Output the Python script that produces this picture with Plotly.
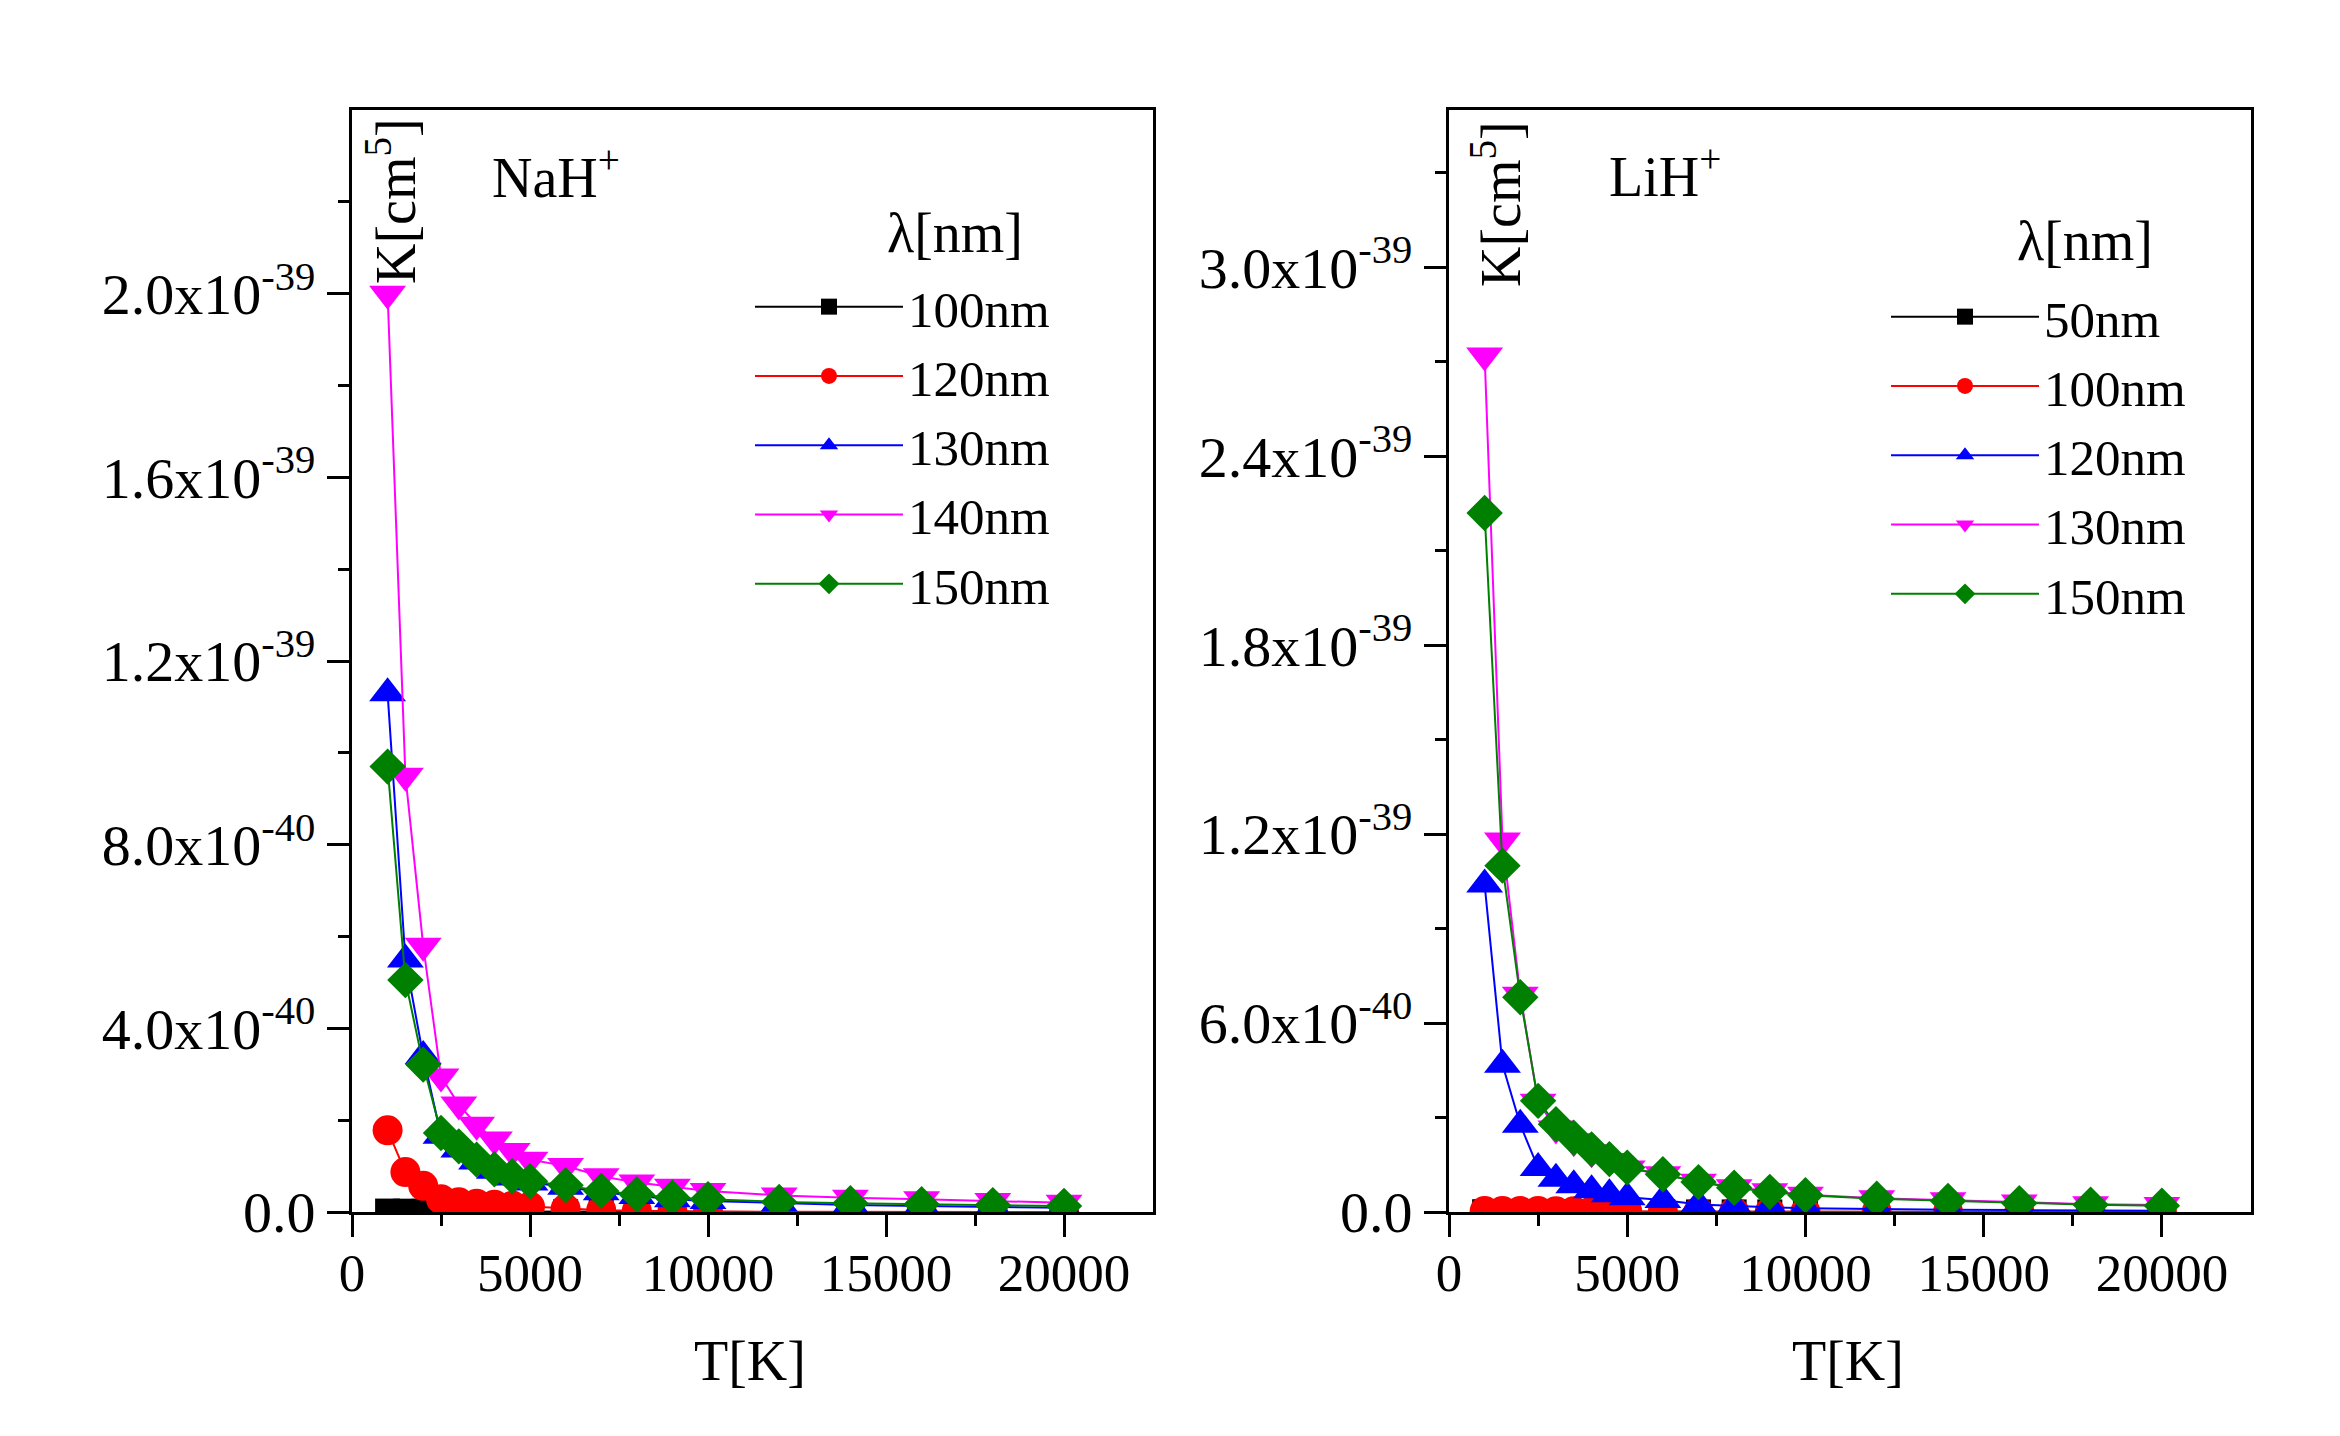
import numpy as np
import plotly.graph_objects as go

# ---------------- data ----------------
T_K = [1000, 1500, 2000, 2500, 3000, 3500, 4000, 4500, 5000, 6000,
       7000, 8000, 9000, 10000, 12000, 14000, 16000, 18000, 20000]

UNIT = 1e-40  # values below are in units of 1e-40 cm^5

# NaH+ panel
nah_names = ["100nm", "120nm", "130nm", "140nm", "150nm"]
nah_100nm = [0.02, 0.018, 0.015, 0.012, 0.01, 0.009, 0.008, 0.007, 0.006, 0.005,
             0.004, 0.003, 0.003, 0.002, 0.002, 0.002, 0.001, 0.001, 0.001]
nah_120nm = [1.78, 0.87, 0.57, 0.28, 0.21, 0.18, 0.16, 0.14, 0.12, 0.07,
             0.04, 0.025, 0.015, 0.01, 0.006, 0.004, 0.003, 0.002, 0.002]
nah_130nm = [11.3, 5.5, 3.4, 1.66, 1.36, 1.1, 0.9, 0.75, 0.64, 0.55,
             0.43, 0.35, 0.28, 0.24, 0.19, 0.15, 0.13, 0.11, 0.09]
nah_140nm = [20.0, 9.5, 5.8, 2.95, 2.34, 1.9, 1.58, 1.33, 1.14, 1.0,
             0.78, 0.64, 0.55, 0.46, 0.36, 0.31, 0.28, 0.24, 0.2]
nah_150nm = [9.7, 5.05, 3.21, 1.72, 1.43, 1.14, 0.93, 0.78, 0.67, 0.58,
             0.46, 0.38, 0.31, 0.28, 0.22, 0.19, 0.17, 0.15, 0.13]

# LiH+ panel
lih_names = ["50nm", "100nm", "120nm", "130nm", "150nm"]
lih_50nm = [0.01, 0.01, 0.01, 0.008, 0.008, 0.007, 0.006, 0.006, 0.005, 0.004,
            0.003, 0.003, 0.002, 0.002, 0.002, 0.001, 0.001, 0.001, 0.001]
lih_100nm = [0.03, 0.03, 0.03, 0.03, 0.025, 0.025, 0.02, 0.02, 0.02, 0.015,
             0.01, 0.008, 0.006, 0.005, 0.004, 0.003, 0.003, 0.002, 0.002]
lih_120nm = [10.4, 4.68, 2.77, 1.4, 1.06, 0.85, 0.69, 0.56, 0.47, 0.38,
             0.24, 0.19, 0.15, 0.12, 0.09, 0.07, 0.06, 0.05, 0.04]
lih_130nm = [27.2, 11.8, 6.9, 3.5, 2.65, 2.25, 1.9, 1.62, 1.38, 1.2,
             0.96, 0.79, 0.66, 0.55, 0.44, 0.37, 0.3, 0.25, 0.22]
lih_150nm = [22.2, 11.0, 6.82, 3.53, 2.79, 2.36, 1.99, 1.68, 1.41, 1.2,
             0.95, 0.77, 0.64, 0.53, 0.42, 0.35, 0.28, 0.23, 0.2]

# ticks
x_tickvals = [0, 5000, 10000, 15000, 20000]
x_ticktext = ["0", "5000", "10000", "15000", "20000"]
x_minorvals = [2500, 7500, 12500, 17500]
nah_yticks = [0, 4e-40, 8e-40, 1.2e-39, 1.6e-39, 2.0e-39]
nah_yticktext = ["0.0", "4.0x10<sup>-40</sup>", "8.0x10<sup>-40</sup>",
                 "1.2x10<sup>-39</sup>", "1.6x10<sup>-39</sup>", "2.0x10<sup>-39</sup>"]
nah_yminor = [2e-40, 6e-40, 1.0e-39, 1.4e-39, 1.8e-39, 2.2e-39]
lih_yticks = [0, 6e-40, 1.2e-39, 1.8e-39, 2.4e-39, 3.0e-39]
lih_yticktext = ["0.0", "6.0x10<sup>-40</sup>", "1.2x10<sup>-39</sup>",
                 "1.8x10<sup>-39</sup>", "2.4x10<sup>-39</sup>", "3.0x10<sup>-39</sup>"]
lih_yminor = [3e-40, 9e-40, 1.5e-39, 2.1e-39, 2.7e-39, 3.3e-39]

# ---------------- style ----------------
FONT = "Liberation Serif"
colors = ["#000000", "#FF0000", "#0000FF", "#FF00FF", "#008000"]
symbols = ["square", "circle", "triangle-up", "triangle-down", "diamond"]
msizes = [25, 30, 32, 32, 28]

W, H = 2340, 1436

fig = go.Figure()

panels = [
    ("x", "y", "legend", nah_names, [nah_100nm, nah_120nm, nah_130nm, nah_140nm, nah_150nm]),
    ("x2", "y2", "legend2", lih_names, [lih_50nm, lih_100nm, lih_120nm, lih_130nm, lih_150nm]),
]
for xa, ya, leg, names, series in panels:
    for name, vals, c, s, ms in zip(names, series, colors, symbols, msizes):
        fig.add_trace(go.Scatter(
            x=T_K, y=np.array(vals) * UNIT, name=name, mode="lines+markers",
            line=dict(color=c, width=2),
            marker=dict(symbol=s, size=ms, color=c, line=dict(width=0)),
            xaxis=xa, yaxis=ya, legend=leg,
        ))

xtickfont = dict(family=FONT, size=53, color="black")
ytickfont = dict(family=FONT, size=58, color="black")

def xaxis_cfg(domain, anchor):
    return dict(domain=domain, anchor=anchor, range=[0, 22500], automargin=False,
                tickmode="array", tickvals=x_tickvals, ticktext=x_ticktext,
                ticks="outside", ticklen=22, tickwidth=3, tickcolor="black",
                ticklabelstandoff=-10,
                minor=dict(tickmode="array", tickvals=x_minorvals, ticks="outside",
                           ticklen=11, tickwidth=3, tickcolor="black", showgrid=False),
                showline=True, linewidth=3, linecolor="black", mirror=True,
                showgrid=False, zeroline=False, tickfont=xtickfont)

def yaxis_cfg(domain, anchor, rng, tv, tt, mv):
    return dict(domain=domain, anchor=anchor, range=rng, automargin=False,
                tickmode="array", tickvals=tv, ticktext=tt,
                ticks="outside", ticklen=22, tickwidth=3, tickcolor="black",
                ticklabelstandoff=0,
                minor=dict(tickmode="array", tickvals=mv, ticks="outside",
                           ticklen=11, tickwidth=3, tickcolor="black", showgrid=False),
                showline=True, linewidth=3, linecolor="black", mirror=True,
                showgrid=False, zeroline=False, tickfont=ytickfont)

ydom = [1 - 1212 / H, 1 - 110 / H]
fig.update_layout(
    width=W, height=H, autosize=False,
    margin=dict(l=0, r=0, t=0, b=0, pad=0, autoexpand=False),
    paper_bgcolor="white", plot_bgcolor="white",
    font=dict(family=FONT, color="black"),
    xaxis=xaxis_cfg([352 / W, 1153 / W], "y"),
    yaxis=yaxis_cfg(ydom, "x", [0, 2.4e-39], nah_yticks, nah_yticktext, nah_yminor),
    xaxis2=xaxis_cfg([1449 / W, 2251 / W], "y2"),
    yaxis2=yaxis_cfg(ydom, "x2", [0, 3.5e-39], lih_yticks, lih_yticktext, lih_yminor),
    legend=dict(x=750 / W, y=1 - 267 / H, xanchor="left", yanchor="top",
                font=dict(family=FONT, size=51, color="black"), itemwidth=148,
                bgcolor="rgba(0,0,0,0)", borderwidth=0, tracegroupgap=0),
    legend2=dict(x=1886 / W, y=1 - 277 / H, xanchor="left", yanchor="top",
                 font=dict(family=FONT, size=51, color="black"), itemwidth=148,
                 bgcolor="rgba(0,0,0,0)", borderwidth=0, tracegroupgap=0),
    showlegend=True,
)

ann_font = dict(family=FONT, size=56, color="black")
annotations = [
    dict(text="NaH<sup>+</sup>", x=490 / W, y=1 - 174 / H, xanchor="left", yanchor="middle"),
    dict(text="LiH<sup>+</sup>", x=1607 / W, y=1 - 173 / H, xanchor="left", yanchor="middle"),
    dict(text="K[cm<sup>5</sup>]", x=391 / W, y=1 - 201 / H, xanchor="center", yanchor="middle",
         textangle=-90),
    dict(text="K[cm<sup>5</sup>]", x=1497 / W, y=1 - 204 / H, xanchor="center", yanchor="middle",
         textangle=-90),
    dict(text="T[K]", x=750 / W, y=1 - 1361 / H, xanchor="center", yanchor="middle"),
    dict(text="T[K]", x=1848 / W, y=1 - 1361 / H, xanchor="center", yanchor="middle"),
    dict(text="λ[nm]", x=955 / W, y=1 - 233 / H, xanchor="center", yanchor="middle"),
    dict(text="λ[nm]", x=2085 / W, y=1 - 241 / H, xanchor="center", yanchor="middle"),
]
for a in annotations:
    a.update(xref="paper", yref="paper", showarrow=False, font=ann_font)
fig.update_layout(annotations=annotations)

fig.write_html("out.html")
